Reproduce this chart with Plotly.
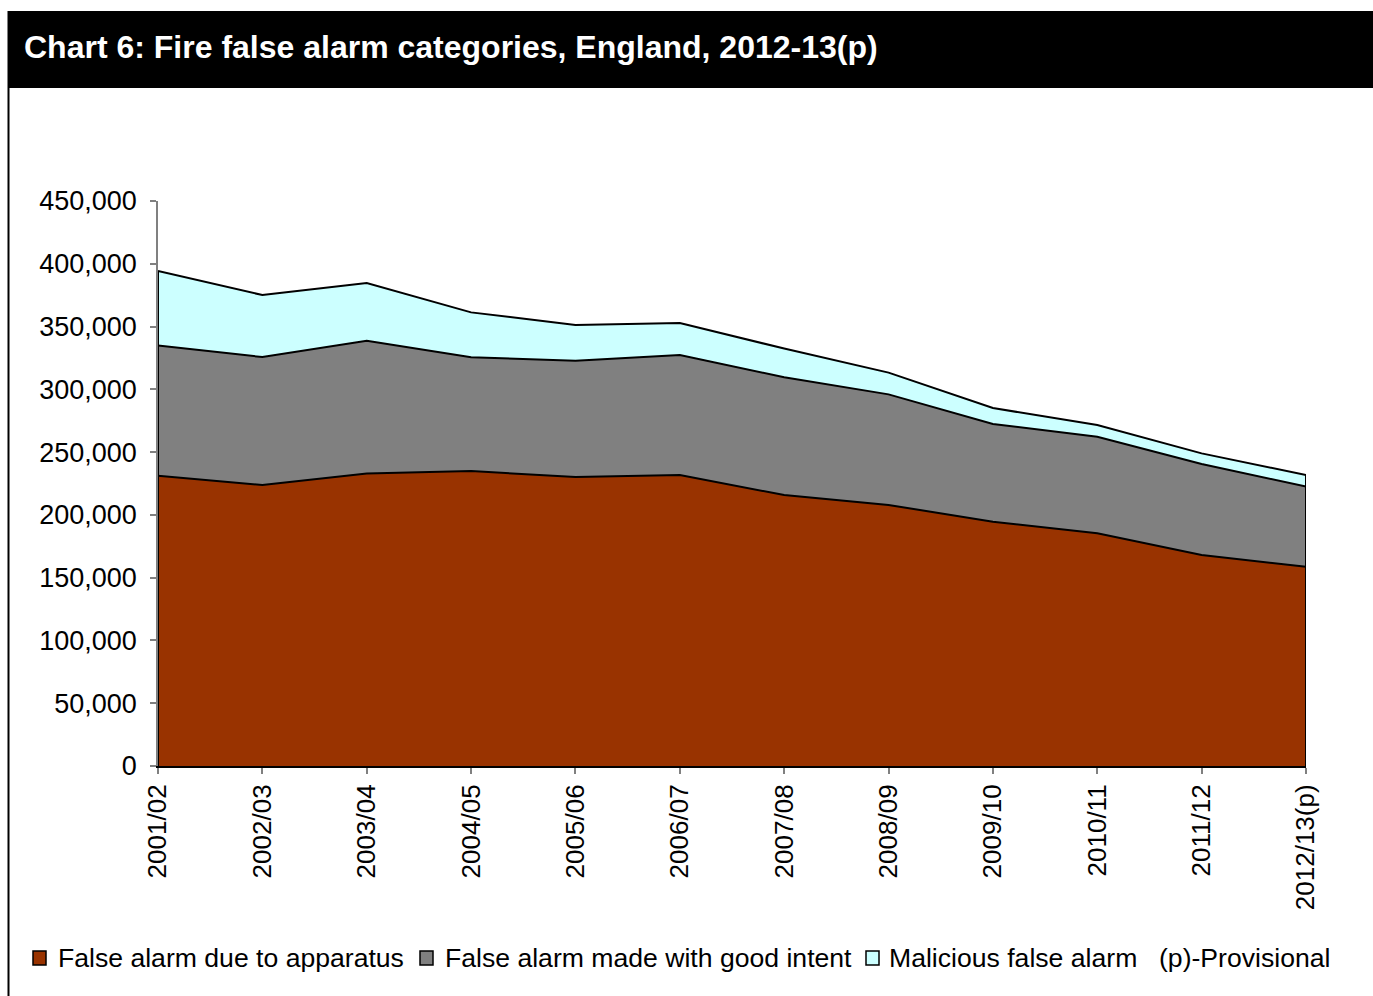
import plotly.graph_objects as go

years = ["2001/02", "2002/03", "2003/04", "2004/05", "2005/06", "2006/07",
         "2007/08", "2008/09", "2009/10", "2010/11", "2011/12", "2012/13(p)"]
apparatus = [231100, 223800, 233000, 234900, 230200, 231800,
             215800, 207900, 194600, 185300, 168000, 158700]
good_intent = [103900, 101900, 105700, 90600, 92600, 95500,
               93800, 88100, 77800, 77000, 72500, 63800]
malicious = [59200, 49400, 46000, 35800, 28400, 25500,
             22900, 17300, 12700, 9300, 8500, 9300]
y_ticks = list(range(0, 450001, 50000))

series_names = ["False alarm due to apparatus", "False alarm made with good intent",
                "Malicious false alarm"]
series_colors = ["#993300", "#808080", "#CCFFFF"]

W, H = 1373, 996
L, R, T, B = 158, 1306, 201, 766
FONT = "Liberation Sans, Arial, sans-serif"


def px(x):
    return (x - L) / (R - L)


def py(y):
    return (B - y) / (B - T)


xs = list(range(len(years)))
fig = go.Figure()
for name, vals, col in zip(series_names, [apparatus, good_intent, malicious], series_colors):
    fig.add_trace(go.Scatter(
        x=xs, y=vals, name=name, stackgroup="one", mode="lines",
        line=dict(color="black", width=2), fillcolor=col,
        showlegend=False, cliponaxis=False, hoverinfo="skip"))

totals = [a + g + m for a, g, m in zip(apparatus, good_intent, malicious)]
for i in (0, len(xs) - 1):
    fig.add_trace(go.Scatter(x=[xs[i], xs[i]], y=[0, totals[i]], mode="lines",
                             line=dict(color="black", width=2), showlegend=False,
                             cliponaxis=False, hoverinfo="skip"))

shapes = [
    dict(type="rect", xref="paper", yref="paper", x0=px(8), x1=px(1373), y0=py(88), y1=py(11),
         fillcolor="black", line=dict(width=0), layer="below"),
    dict(type="line", xref="paper", yref="paper", x0=px(8.5), x1=px(8.5), y0=py(996), y1=py(11),
         line=dict(color="black", width=2)),
]
annotations = [
    dict(text="<b>Chart 6: Fire false alarm categories, England, 2012-13(p)</b>",
         xref="paper", yref="paper", x=px(22), y=py(47), xanchor="left", yanchor="middle",
         showarrow=False, font=dict(family=FONT, size=32, color="white")),
]

legend_items = [(33, 56), (420, 443), (866, 887)]
for (sx, tx), name, col in zip(legend_items, series_names, series_colors):
    shapes.append(dict(type="rect", xref="paper", yref="paper", x0=px(sx), x1=px(sx + 13),
                       y0=py(965), y1=py(951), fillcolor=col, line=dict(color="black", width=1.5)))
    annotations.append(dict(text=name, xref="paper", yref="paper", x=px(tx), y=py(958),
                            xanchor="left", yanchor="middle", showarrow=False,
                            font=dict(family=FONT, size=26.6, color="black")))
annotations.append(dict(text="(p)-Provisional", xref="paper", yref="paper", x=px(1157), y=py(958),
                        xanchor="left", yanchor="middle", showarrow=False,
                        font=dict(family=FONT, size=26.6, color="black")))

fig.update_layout(
    width=W, height=H,
    margin=dict(l=L, r=W - R, t=T, b=H - B, pad=0),
    paper_bgcolor="white", plot_bgcolor="white",
    font=dict(family=FONT, size=26, color="black"),
    shapes=shapes, annotations=annotations,
    xaxis=dict(range=[0, len(xs) - 1], tickvals=xs, ticktext=years, tickangle=-90,
               ticks="outside", ticklen=6, tickcolor="#808080", tickwidth=1.5,
               showline=True, linecolor="black", linewidth=2, showgrid=False, zeroline=False,
               ticklabelstandoff=0, tickfont=dict(size=26)),
    yaxis=dict(range=[0, 450000], tickvals=y_ticks, tickformat=",",
               ticks="outside", ticklen=6, tickcolor="#808080", tickwidth=1.5,
               showline=True, linecolor="#808080", linewidth=1.5, showgrid=False, zeroline=False,
               ticklabelstandoff=8, tickfont=dict(size=27)),
)

fig.write_html("out.html")
